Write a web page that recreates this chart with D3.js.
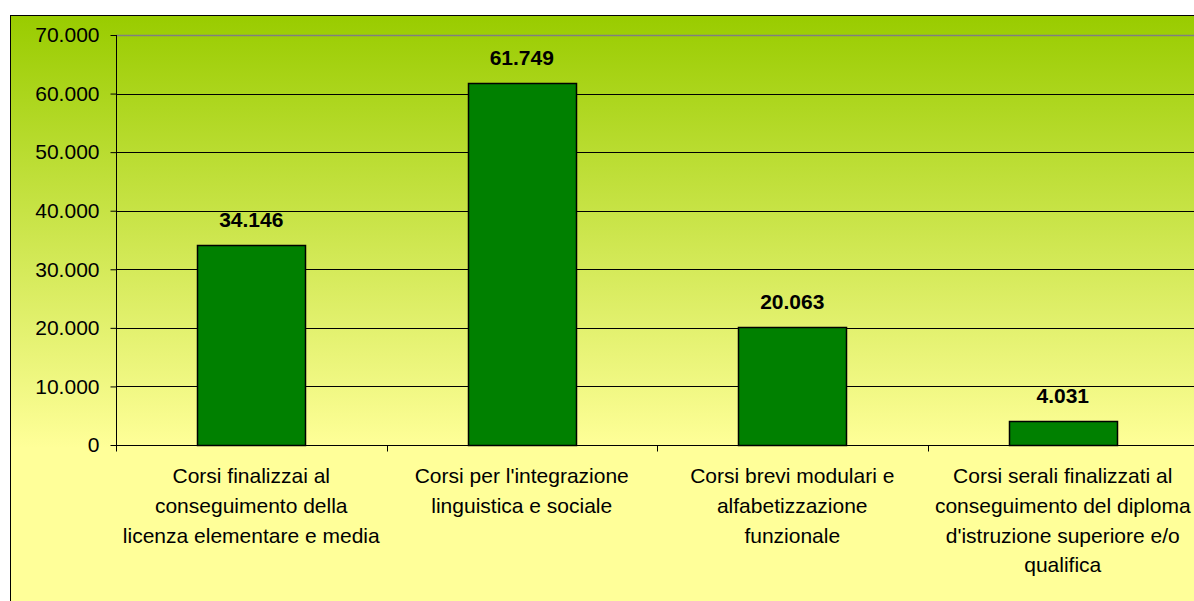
<!DOCTYPE html>
<html>
<head>
<meta charset="utf-8">
<script src="https://cdn.jsdelivr.net/npm/d3@7"></script>
<style>
  body { margin: 0; background: #fff; }
  svg text { font-family: Arial, "Liberation Sans", sans-serif; }
</style>
</head>
<body>
<script>
// data
const categories = [
    ["Corsi finalizzai al", "conseguimento della", "licenza elementare e media"],
    ["Corsi per l'integrazione", "linguistica e sociale"],
    ["Corsi brevi modulari e", "alfabetizzazione", "funzionale"],
    ["Corsi serali finalizzati al", "conseguimento del diploma", "d'istruzione superiore e/o", "qualifica"]
]
const values = [34146, 61749, 20063, 4031]
const yTicks = [0, 10000, 20000, 30000, 40000, 50000, 60000, 70000]

const W = 1194, H = 601
const fmt = d => d == 0 ? "0" : d3.format(",")(d).replace(/,/g, ".")

let svg = d3.select("body").append("svg")
    .attr("width", W).attr("height", H)

let grad = svg.append("defs").append("linearGradient")
    .attr("id", "bg").attr("x1", 0).attr("y1", 0).attr("x2", 0).attr("y2", 1)
grad.append("stop").attr("offset", "0%").attr("stop-color", "#99cc00")
grad.append("stop").attr("offset", "72%").attr("stop-color", "#ffff99")
grad.append("stop").attr("offset", "100%").attr("stop-color", "#ffff99")

// chart area (runs past the right and bottom edges)
svg.append("rect")
    .attr("x", 10.5).attr("y", 15.5)
    .attr("width", W + 20).attr("height", H)
    .attr("fill", "url(#bg)")
    .attr("stroke", "#000")

const pLeft = 116, pTop = 35, pBottom = 445
let x = d3.scaleBand().domain(d3.range(categories.length)).range([pLeft, pLeft + 4 * 270.5])
let y = d3.scaleLinear().domain([0, 70000]).range([pBottom, pTop])

// gridlines
svg.append("g").selectAll("line")
    .data(yTicks.filter(d => d > 0 && d < 70000))
    .join("line")
    .attr("x1", pLeft).attr("x2", W)
    .attr("y1", d => Math.round(y(d)) + 0.5).attr("y2", d => Math.round(y(d)) + 0.5)
    .attr("stroke", "#000")

// plot top border
svg.append("line")
    .attr("x1", pLeft).attr("x2", W)
    .attr("y1", pTop + 0.5).attr("y2", pTop + 0.5)
    .attr("stroke", "#808080").attr("stroke-width", 1.5)

// y axis
let yAxis = svg.append("g")
    .attr("transform", `translate(${pLeft + 0.5},0)`)
    .call(d3.axisLeft(y).tickValues(yTicks).tickFormat(fmt).tickSize(6).tickPadding(11))
yAxis.select(".domain").attr("stroke", "#000").attr("d", `M0,${pTop}V${pBottom}`)
yAxis.selectAll("text").attr("font-size", 21).attr("fill", "#000").attr("font-family", "Arial, 'Liberation Sans', sans-serif")

// bars
let bw = 108
svg.append("g").selectAll("rect")
    .data(values)
    .join("rect")
    .attr("x", (d, i) => Math.round(x(i) + x.bandwidth() / 2 - bw / 2) + 0.5)
    .attr("y", d => Math.round(y(d)) + 0.5)
    .attr("width", bw)
    .attr("height", d => pBottom - Math.round(y(d)))
    .attr("fill", "#008000")
    .attr("stroke", "#000").attr("stroke-width", 1.5)

// x axis
let xAxis = svg.append("g")
    .attr("transform", `translate(0,${pBottom + 0.5})`)
xAxis.append("line").attr("x1", pLeft).attr("x2", W).attr("stroke", "#000")
xAxis.selectAll(".tk")
    .data(d3.range(categories.length))
    .join("line")
    .attr("class", "tk")
    .attr("x1", i => Math.round(x(i)) + 0.5).attr("x2", i => Math.round(x(i)) + 0.5)
    .attr("y1", 0).attr("y2", 6)
    .attr("stroke", "#000")

// value labels
svg.append("g").selectAll("text")
    .data(values)
    .join("text")
    .attr("x", (d, i) => x(i) + x.bandwidth() / 2)
    .attr("y", d => y(d) - 18.5)
    .attr("text-anchor", "middle")
    .attr("font-size", 21).attr("font-weight", "bold")
    .text(fmt)

// category labels
let cl = svg.append("g").selectAll("text")
    .data(categories)
    .join("text")
    .attr("text-anchor", "middle")
    .attr("font-size", 21)
cl.each(function (lines, i) {
    d3.select(this).selectAll("tspan")
        .data(lines)
        .join("tspan")
        .attr("x", x(i) + x.bandwidth() / 2)
        .attr("y", (l, j) => 483 + j * 29.8)
        .text(l => l)
})
</script>
</body>
</html>
